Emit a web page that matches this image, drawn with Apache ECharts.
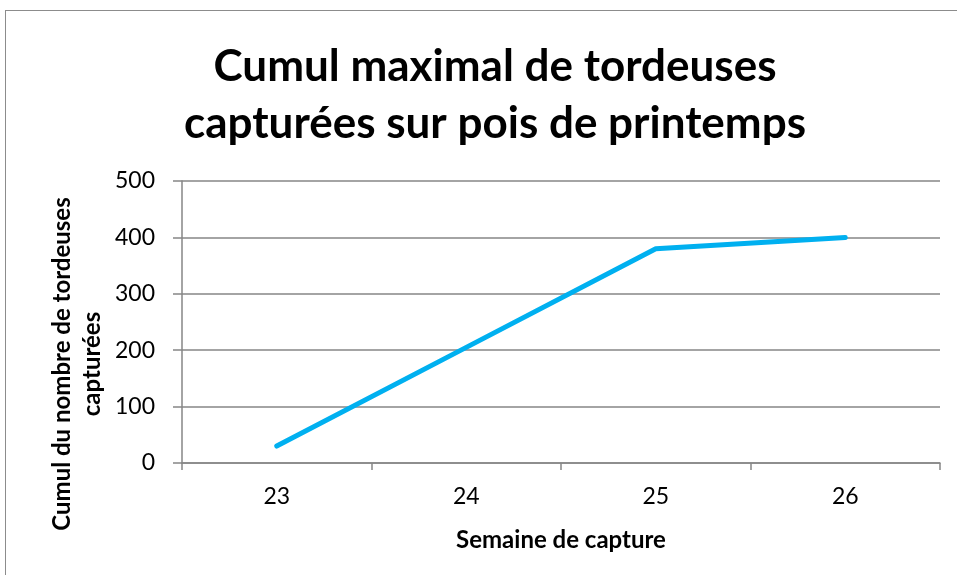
<!DOCTYPE html>
<html>
<head>
<meta charset="utf-8">
<script src="https://cdn.jsdelivr.net/npm/echarts@6/dist/echarts.min.js"></script>
<style>
  html, body { margin: 0; padding: 0; background: #fff; }
  #frame {
    position: absolute; left: 5px; top: 10px; width: 960px; height: 580px;
    border-top: 1px solid #8c8c8c; border-left: 1px solid #8c8c8c;
  }
  #chart { position: absolute; left: 0; top: 0; width: 957px; height: 575px; }
</style>
</head>
<body>
<div id="frame"></div>
<div id="chart"></div>
<script>
const weeks = ['23', '24', '25', '26']
const cumulCaptures = [30, 205, 380, 400]
const yTicks = [0, 100, 200, 300, 400, 500]

const font = 'Lato'
const gray = '#868686'

const chart = echarts.init(document.getElementById('chart'))

chart.setOption({
  animation: false,
  title: {
    text: 'Cumul maximal de tordeuses\ncapturées sur pois de printemps',
    left: 490,
    top: 33,
    textAlign: 'center',
    textStyle: {
      fontFamily: font,
      fontWeight: 'bold',
      fontSize: 44,
      lineHeight: 57,
      color: '#000'
    }
  },
  grid: {
    left: 182,
    right: 17,
    top: 181,
    bottom: 112
  },
  xAxis: {
    type: 'category',
    data: weeks,
    boundaryGap: true,
    name: 'Semaine de capture',
    nameLocation: 'middle',
    nameGap: 65,
    nameTextStyle: {
      fontFamily: font,
      fontWeight: 'bold',
      fontSize: 24,
      color: '#000'
    },
    axisLine: { lineStyle: { color: gray, width: 1.5 } },
    axisTick: { show: true, alignWithLabel: false, length: 7, lineStyle: { color: gray, width: 1.5 } },
    axisLabel: { fontFamily: font, fontSize: 23, color: '#000', margin: 22 }
  },
  yAxis: {
    type: 'value',
    min: yTicks[0],
    max: yTicks[yTicks.length - 1],
    interval: yTicks[1] - yTicks[0],
    axisLine: { show: true, lineStyle: { color: gray, width: 1.5 } },
    axisTick: { show: true, length: 9, lineStyle: { color: gray, width: 1.5 } },
    axisLabel: { fontFamily: font, fontSize: 23, color: '#000', margin: 27 },
    splitLine: { show: true, lineStyle: { color: gray, width: 1.5 } }
  },
  graphic: [
    {
      type: 'text',
      x: 77,
      y: 364,
      rotation: Math.PI / 2,
      style: {
        text: 'Cumul du nombre de tordeuses\ncapturées',
        fontFamily: font,
        fontWeight: 'bold',
        fontSize: 24,
        lineHeight: 30,
        fill: '#000',
        align: 'center',
        verticalAlign: 'middle'
      }
    }
  ],
  series: [
    {
      type: 'line',
      data: cumulCaptures,
      symbol: 'none',
      lineStyle: { color: '#00b0f0', width: 5, cap: 'round' }
    }
  ]
})
</script>
</body>
</html>
